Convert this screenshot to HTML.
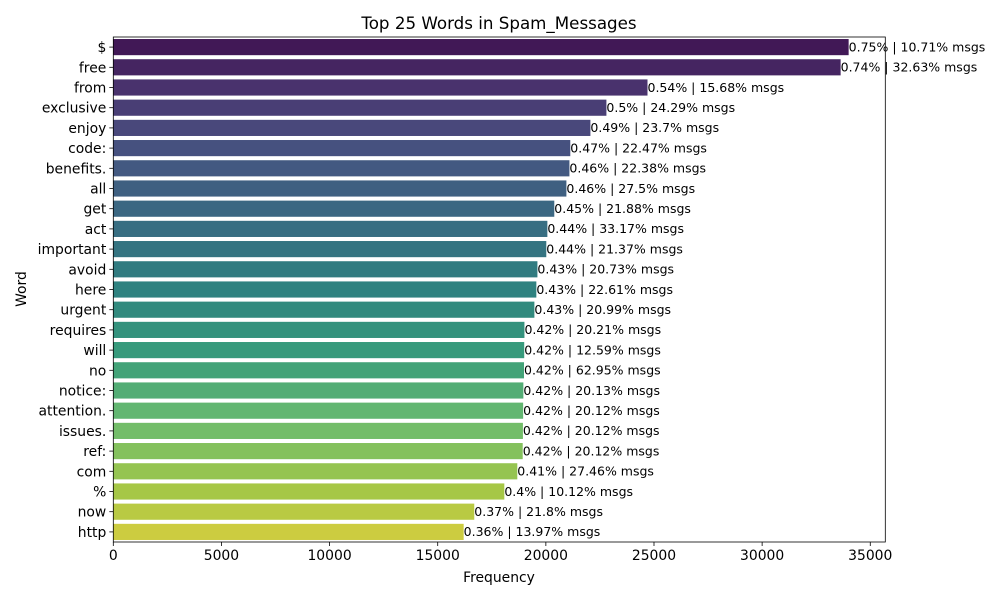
<!DOCTYPE html>
<html><head><meta charset="utf-8"><style>
body{margin:0;background:#fff;font-family:"Liberation Sans","DejaVu Sans",sans-serif;}
svg text{font-family:"DejaVu Sans","Liberation Sans",sans-serif;}
</style></head><body>
<svg id="chart" width="1000" height="600" xmlns="http://www.w3.org/2000/svg">
<rect width="1000" height="600" fill="#fff"/>
<text x="499" y="29" font-size="16.7" text-anchor="middle" fill="#000">Top 25 Words in Spam_Messages</text>
<g id="bars"></g><g id="axes"></g>
<text x="499" y="582" font-size="13.9" text-anchor="middle">Frequency</text>
<text x="26" y="289" font-size="13.9" text-anchor="middle" transform="rotate(-90 26 289)">Word</text>
</svg>
<script>
const words=["$","free","from","exclusive","enjoy","code:","benefits.","all","get","act","important","avoid","here","urgent","requires","will","no","notice:","attention.","issues.","ref:","com","%","now","http"];
const freqs=[34000,33630,24700,22800,22060,21130,21090,20950,20390,20070,20020,19610,19560,19470,19010,19000,18990,18960,18950,18940,18930,18680,18080,16690,16200];
const pcts=["0.75%","0.74%","0.54%","0.5%","0.49%","0.47%","0.46%","0.46%","0.45%","0.44%","0.44%","0.43%","0.43%","0.43%","0.42%","0.42%","0.42%","0.42%","0.42%","0.42%","0.42%","0.41%","0.4%","0.37%","0.36%"];
const msgs=["10.71%","32.63%","15.68%","24.29%","23.7%","22.47%","22.38%","27.5%","21.88%","33.17%","21.37%","20.73%","22.61%","20.99%","20.21%","12.59%","62.95%","20.13%","20.12%","20.12%","20.12%","27.46%","10.12%","21.8%","13.97%"];
const xTicks=[0,5000,10000,15000,20000,25000,30000,35000];
const L=113.3,R=885.3,T=37,B=542,XMAX=35695;
const NS="http://www.w3.org/2000/svg";
const x=v=>L+(v/XMAX)*(R-L);
const band=(B-T)/words.length;
const y=i=>T+band*i;
const stops=[[0,[68,1,84]],[0.125,[71,44,122]],[0.25,[59,81,139]],[0.375,[44,113,142]],[0.5,[33,144,141]],[0.625,[39,173,129]],[0.75,[92,200,99]],[0.875,[170,220,50]],[1,[253,231,37]]];
function desat(rgb,s){const [r,g,b]=rgb.map(c=>c/255);const mx=Math.max(r,g,b),mn=Math.min(r,g,b);const l=(mx+mn)/2;
  return [r,g,b].map(c=>Math.round((l+(c-l)*s)*255));}
function vir(t){let c=[253,231,37];for(let k=0;k<stops.length-1;k++){const a=stops[k],b=stops[k+1];if(t<=b[0]){const f=(t-a[0])/(b[0]-a[0]);c=a[1].map((v,j)=>v+(b[1][j]-v)*f);break;}}
  const d=desat(c,0.75);return `rgb(${d.join(',')})`;}
const bars=document.getElementById('bars'),axes=document.getElementById('axes');
function mk(tag,attrs,parent){const e=document.createElementNS(NS,tag);for(const k in attrs)e.setAttribute(k,attrs[k]);parent.appendChild(e);return e;}
words.forEach((w,i)=>{
  const bh=band*0.8,by=y(i)+band*0.1;
  const r=mk('rect',{x:L,y:by,width:x(freqs[i])-L,height:bh,fill:vir((i+1)/26)},bars);
  
  
  const t=mk('text',{x:x(freqs[i]),y:y(i)+band/2+4.3,'font-size':12.5},bars);
  t.textContent=pcts[i]+' | '+msgs[i]+' msgs';
  
  
  const yl=mk('text',{x:L-7,y:y(i)+band/2+5,'font-size':13.9,'text-anchor':'end'},axes);
  yl.textContent=w;
  
  
  mk('line',{x1:L-4,x2:L,y1:y(i)+band/2,y2:y(i)+band/2,stroke:'#000','stroke-width':0.8},axes);
});
xTicks.forEach(v=>{
  mk('line',{x1:x(v),x2:x(v),y1:B,y2:B+4,stroke:'#000','stroke-width':0.8},axes);
  const t=mk('text',{x:x(v),y:B+18,'font-size':13.9,'text-anchor':'middle'},axes);
  t.textContent=v;
  
  
});
const fr=mk('rect',{x:L,y:T,width:R-L,height:B-T,fill:'none',stroke:'#000','stroke-width':0.8},axes);


</script>
</body></html>
